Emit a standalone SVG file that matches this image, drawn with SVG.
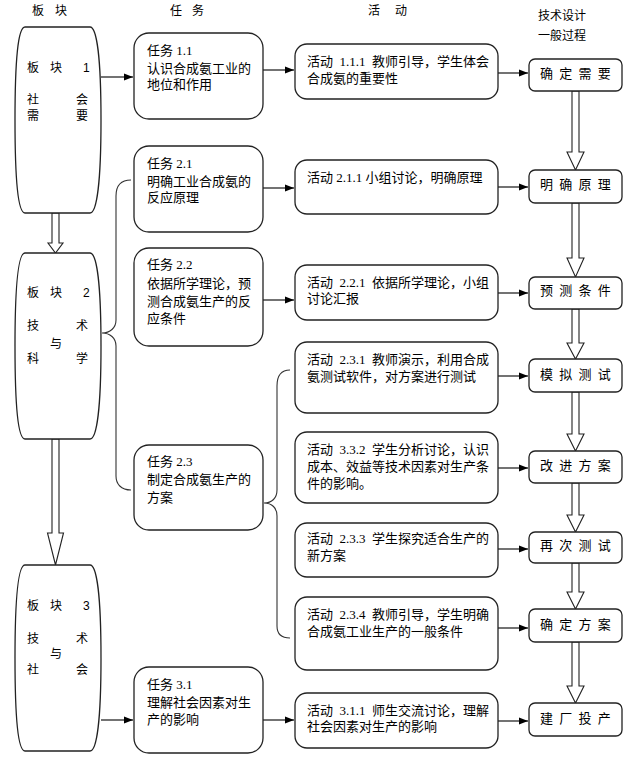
<svg xmlns="http://www.w3.org/2000/svg" width="633" height="765" viewBox="0 0 633 765">
<defs>
<marker id="ah" markerUnits="userSpaceOnUse" markerWidth="9" markerHeight="8" refX="9" refY="4" orient="auto"><path d="M0,0.5 L9,4 L0,7.5 Z" fill="#000"/></marker>
<style>
.box{fill:#fff;stroke:#222;stroke-width:1.3}
.hol{fill:#fff;stroke:#222;stroke-width:1.1}
.con{fill:none;stroke:#000;stroke-width:1.1}
.brc{fill:none;stroke:#333;stroke-width:1.1}
.t{font-family:"Liberation Serif","Noto Sans CJK SC",serif;font-size:13px;fill:#000}
.m{font-family:"Liberation Sans","Noto Sans CJK SC",sans-serif;font-size:12px;fill:#000}
.h{font-family:"Liberation Serif","Noto Sans CJK SC",serif;font-size:12px;fill:#000}
.r{font-family:"Liberation Serif","Noto Sans CJK SC",serif;font-size:13px;fill:#000;letter-spacing:1.5px}
</style>
</defs>

<g id="headers">
<text class="h" x="32" y="15" style="letter-spacing:4px">板 块</text>
<text class="h" x="170" y="15" style="letter-spacing:3.5px">任 务</text>
<text class="h" x="368" y="15" style="letter-spacing:6px">活 动</text>
<text class="h" x="538" y="19.5">技术设计</text>
<text class="h" x="538" y="39.5">一般过程</text>
</g>

<g id="connectors">
<path class="brc" d="M131,180 C121,180 116,186 116,196 V320 C116,328 110,333 102,333 C110,333 116,338 116,346 V476 C116,484 121,490 131,490"/>
<path class="brc" d="M290,370 C281,370 277,376 277,386 V490 C277,498 272,503 264,503 C272,503 277,508 277,516 V626 C277,634 281,638 290,638"/>
<path class="con" marker-end="url(#ah)" d="M101,77 H133"/>
<path class="con" marker-end="url(#ah)" d="M263,70 H294"/>
<path class="con" marker-end="url(#ah)" d="M498,73 H528"/>
<path class="con" marker-end="url(#ah)" d="M263,188 H294"/>
<path class="con" marker-end="url(#ah)" d="M498,187 H528"/>
<path class="con" marker-end="url(#ah)" d="M263,300 H294"/>
<path class="con" marker-end="url(#ah)" d="M498,293 H528"/>
<path class="con" marker-end="url(#ah)" d="M498,376 H528"/>
<path class="con" marker-end="url(#ah)" d="M498,468 H528"/>
<path class="con" marker-end="url(#ah)" d="M498,549 H528"/>
<path class="con" marker-end="url(#ah)" d="M498,628 H528"/>
<path class="con" marker-end="url(#ah)" d="M101,720 H133"/>
<path class="con" marker-end="url(#ah)" d="M263,720 H294"/>
<path class="con" marker-end="url(#ah)" d="M498,721 H528"/>
<path class="hol" d="M52,213 V243 H48 L55.5,253 L63,243 H59 V213 Z"/>
<path class="hol" d="M52,439 V533 H47.5 L55.5,565 L63.5,533 H59 V439 Z"/>
<path class="hol" d="M572,91 V152 H567 L575.5,170 L584,152 H579 V91 Z"/>
<path class="hol" d="M572,203 V258 H567 L575.5,277 L584,258 H579 V203 Z"/>
<path class="hol" d="M572,309 V343 H567 L575.5,359 L584,343 H579 V309 Z"/>
<path class="hol" d="M572,392 V434 H567 L575.5,451 L584,434 H579 V392 Z"/>
<path class="hol" d="M572,483 V515 H567 L575.5,532 L584,515 H579 V483 Z"/>
<path class="hol" d="M572,563 V592 H567 L575.5,609 L584,592 H579 V563 Z"/>
<path class="hol" d="M572,642 V686 H567 L575.5,703 L584,686 H579 V642 Z"/>
</g>

<g id="module1">
<path class="box" d="M25,27 H90 C97,27 101,60 101,120 C101,180 97,213 90,213 H25 C18,213 15,180 15,120 C15,60 18,27 25,27 Z"/>
<text class="m" x="27 50 83" y="71.5">板块1</text>
<text class="m" x="27 76" y="103.5">社会</text>
<text class="m" x="27 76" y="119.5">需要</text>
</g>
<g id="module2">
<path class="box" d="M25,253 H90 C97,253 101,286 101,346 C101,406 97,439 90,439 H25 C18,439 15,406 15,346 C15,286 18,253 25,253 Z"/>
<text class="m" x="27 50 83" y="296.5">板块2</text>
<text class="m" x="27 76" y="329.5">技术</text>
<text class="m" x="50" y="347.5">与</text>
<text class="m" x="27 76" y="362.5">科学</text>
</g>
<g id="module3">
<path class="box" d="M25,565 H90 C97,565 101,598 101,658 C101,718 97,751 90,751 H25 C18,751 15,718 15,658 C15,598 18,565 25,565 Z"/>
<text class="m" x="27 50 83" y="609.5">板块3</text>
<text class="m" x="27 76" y="642.5">技术</text>
<text class="m" x="50" y="657.5">与</text>
<text class="m" x="27 76" y="673.5">社会</text>
</g>

<g id="task1-1">
<rect class="box" x="134" y="33" width="129" height="86" rx="15"/>
<text class="t" x="147" y="55">任务 1.1</text>
<text class="t" x="147" y="73">认识合成氨工业的</text>
<text class="t" x="147" y="89">地位和作用</text>
</g>
<g id="task2-1">
<rect class="box" x="134" y="146" width="129" height="86" rx="15"/>
<text class="t" x="147" y="168">任务 2.1</text>
<text class="t" x="147" y="186">明确工业合成氨的</text>
<text class="t" x="147" y="202">反应原理</text>
</g>
<g id="task2-2">
<rect class="box" x="134" y="248" width="129" height="98" rx="15"/>
<text class="t" x="147" y="269">任务 2.2</text>
<text class="t" x="147" y="288">依据所学理论，预</text>
<text class="t" x="147" y="306">测合成氨生产的反</text>
<text class="t" x="147" y="323">应条件</text>
</g>
<g id="task2-3">
<rect class="box" x="134" y="445" width="129" height="85" rx="15"/>
<text class="t" x="147" y="466">任务 2.3</text>
<text class="t" x="147" y="484">制定合成氨生产的</text>
<text class="t" x="147" y="502">方案</text>
</g>
<g id="task3-1">
<rect class="box" x="134" y="667" width="129" height="86" rx="15"/>
<text class="t" x="147" y="689">任务 3.1</text>
<text class="t" x="147" y="707">理解社会因素对生</text>
<text class="t" x="147" y="724">产的影响</text>
</g>

<g id="act1-1-1">
<rect class="box" x="295" y="44" width="203" height="55" rx="12"/>
<text class="t" x="307" y="66" xml:space="preserve">活动  1.1.1  教师引导，学生体会</text>
<text class="t" x="307" y="83">合成氨的重要性</text>
</g>
<g id="act2-1-1">
<rect class="box" x="295" y="160" width="203" height="54" rx="12"/>
<text class="t" x="307" y="182">活动 2.1.1 小组讨论，明确原理</text>
</g>
<g id="act2-2-1">
<rect class="box" x="295" y="265" width="203" height="55" rx="12"/>
<text class="t" x="307" y="287" xml:space="preserve">活动  2.2.1  依据所学理论，小组</text>
<text class="t" x="307" y="303">讨论汇报</text>
</g>
<g id="act2-3-1">
<rect class="box" x="295" y="342" width="203" height="71" rx="12"/>
<text class="t" x="307" y="364" xml:space="preserve">活动  2.3.1  教师演示，利用合成</text>
<text class="t" x="307" y="381">氨测试软件，对方案进行测试</text>
</g>
<g id="act3-3-2">
<rect class="box" x="295" y="432" width="203" height="71" rx="12"/>
<text class="t" x="307" y="454" xml:space="preserve">活动  3.3.2  学生分析讨论，认识</text>
<text class="t" x="307" y="471">成本、效益等技术因素对生产条</text>
<text class="t" x="307" y="488">件的影响。</text>
</g>
<g id="act2-3-3">
<rect class="box" x="295" y="523" width="203" height="54" rx="12"/>
<text class="t" x="307" y="543" xml:space="preserve">活动  2.3.3  学生探究适合生产的</text>
<text class="t" x="307" y="560">新方案</text>
</g>
<g id="act2-3-4">
<rect class="box" x="295" y="597" width="203" height="73" rx="12"/>
<text class="t" x="307" y="619" xml:space="preserve">活动  2.3.4  教师引导，学生明确</text>
<text class="t" x="307" y="636">合成氨工业生产的一般条件</text>
</g>
<g id="act3-1-1">
<rect class="box" x="295" y="693" width="203" height="55" rx="12"/>
<text class="t" x="307" y="715" xml:space="preserve">活动  3.1.1  师生交流讨论，理解</text>
<text class="t" x="307" y="731">社会因素对生产的影响</text>
</g>

<g id="step1"><rect class="box" x="529" y="59" width="93" height="32" rx="6"/><text class="r" x="540" y="78">确 定 需 要</text></g>
<g id="step2"><rect class="box" x="529" y="170" width="93" height="33" rx="6"/><text class="r" x="540" y="189">明 确 原 理</text></g>
<g id="step3"><rect class="box" x="529" y="277" width="93" height="32" rx="6"/><text class="r" x="540" y="295">预 测 条 件</text></g>
<g id="step4"><rect class="box" x="529" y="359" width="93" height="33" rx="6"/><text class="r" x="540" y="379">模 拟 测 试</text></g>
<g id="step5"><rect class="box" x="529" y="451" width="93" height="32" rx="6"/><text class="r" x="540" y="470">改 进 方 案</text></g>
<g id="step6"><rect class="box" x="529" y="532" width="93" height="31" rx="6"/><text class="r" x="540" y="550">再 次 测 试</text></g>
<g id="step7"><rect class="box" x="529" y="609" width="93" height="33" rx="6"/><text class="r" x="540" y="629">确 定 方 案</text></g>
<g id="step8"><rect class="box" x="529" y="703" width="93" height="33" rx="6"/><text class="r" x="540" y="723">建 厂 投 产</text></g>
</svg>
